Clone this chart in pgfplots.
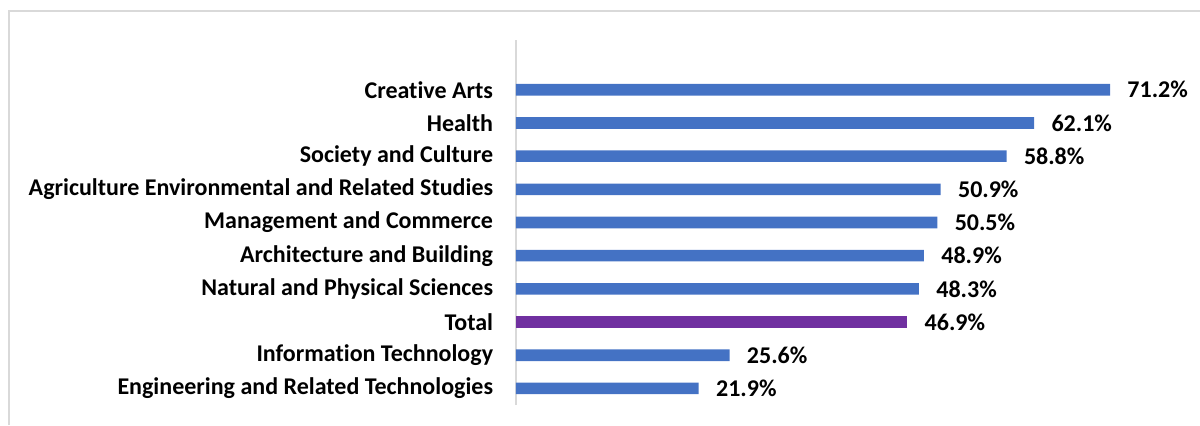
\documentclass[border=0pt]{standalone}
\usepackage{fontspec}
\setmainfont{Carlito}[Ligatures=NoCommon]
\usepackage{pgfplots}
\usepackage{pgfplotstable}
\pgfplotsset{compat=1.18}

\definecolor{barblue}{HTML}{4472C4}
\definecolor{barpurple}{HTML}{7030A0}
\definecolor{linegray}{HTML}{D9D9D9}

% position 0 = bottom bar; Total (2) is plotted separately
\pgfplotstableread{
pos val
0 21.9
1 25.6
3 48.3
4 48.9
5 50.5
6 50.9
7 58.8
8 62.1
9 71.2
}\fields
\pgfplotstableread{
pos val
2 46.9
}\total

\begin{document}
\begin{tikzpicture}
\path[use as bounding box] (0,0) rectangle (600pt,212.5pt);
\draw[linegray, line width=0.8pt] (4.5pt,0) -- (4.5pt,207pt) -- (600pt,207pt);
\begin{axis}[
    at={(258pt,10pt)}, anchor=south west,
    scale only axis,
    width=325.4pt, height=182.5pt,
    xmin=0, xmax=78,
    ymin=-0.5, ymax=10.5,
    hide x axis,
    axis y line*=left,
    y axis line style={linegray, line width=0.8pt, -},
    ytick={0,...,9},
    yticklabels={Engineering and Related Technologies, Information Technology, Total,
        Natural and Physical Sciences, Architecture and Building, Management and Commerce,
        Agriculture Environmental and Related Studies, Society and Culture, Health, Creative Arts},
    ytick style={draw=none},
    yticklabel style={font=\fontsize{12}{14}\selectfont\bfseries, inner sep=0pt, xshift=-7pt},
    xbar, bar width=5.8pt, bar shift=0pt,
    point meta=explicit,
    /pgf/number format/assume math mode=true,
    nodes near coords={\pgfmathprintnumber[fixed,fixed zerofill,precision=1]{\pgfplotspointmeta}\%},
    nodes near coords style={anchor=west, font=\fontsize{12}{14}\selectfont\bfseries, black, inner sep=0pt, xshift=8.5pt},
]
\addplot[fill=barblue, draw=none] table[x=val, y=pos, meta=val] {\fields};
\addplot[fill=barpurple, draw=none] table[x=val, y=pos, meta=val] {\total};
\end{axis}
\end{tikzpicture}
\end{document}
